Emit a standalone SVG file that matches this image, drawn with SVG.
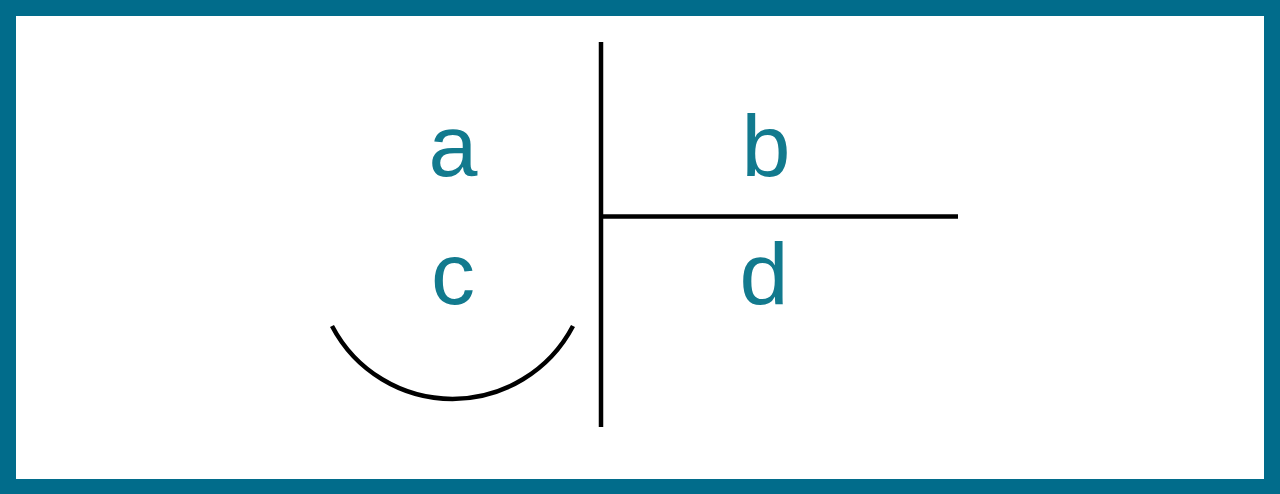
<svg xmlns="http://www.w3.org/2000/svg" width="1280" height="494" viewBox="0 0 1280 494">
  <style>
    .ln { stroke: #000; stroke-width: 4.5; fill: none; stroke-linecap: butt; }
    .lbl { font-family: "Liberation Sans", Arial, sans-serif; font-size: 88px; fill: #127a8e; text-anchor: middle; }
  </style>
  <rect x="0" y="0" width="1280" height="494" fill="#016c8b"/>
  <rect x="16" y="16" width="1248" height="463" fill="#ffffff"/>
  <g id="connectors">
    <line class="ln" x1="601" y1="42" x2="601" y2="427"/>
    <line class="ln" x1="601" y1="216.5" x2="958" y2="216.5"/>
    <path class="ln" d="M332,326 A136,136 0 0 0 573,326"/>
  </g>
  <g id="label-a"><text class="lbl" x="453" y="176">a</text></g>
  <g id="label-b"><text class="lbl" x="766" y="176">b</text></g>
  <g id="label-c"><text class="lbl" x="453" y="304">c</text></g>
  <g id="label-d"><text class="lbl" x="764" y="304">d</text></g>
</svg>
